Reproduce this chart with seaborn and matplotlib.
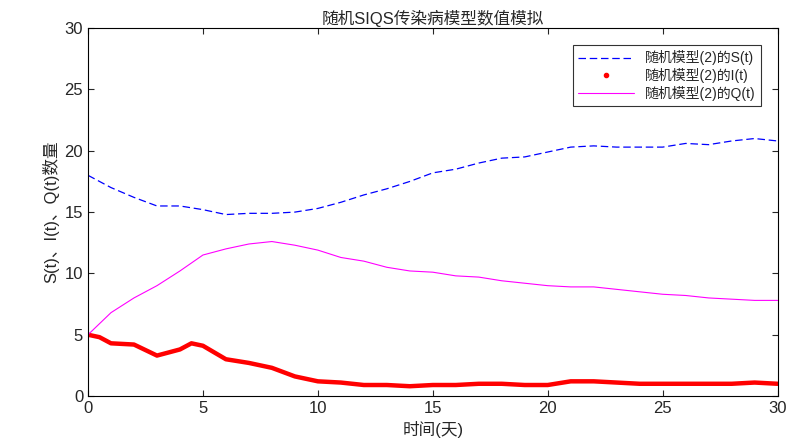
import matplotlib
matplotlib.use("Agg")
import matplotlib.pyplot as plt
import seaborn as sns
import pandas as pd
from matplotlib.lines import Line2D

sns.set_style("white")
plt.rcParams['font.family'] = ['Liberation Sans', 'Noto Sans CJK SC']

t = list(range(31))
s_vals = [18, 17, 16.2, 15.5, 15.5, 15.2, 14.8, 14.9, 14.9, 15.0, 15.3, 15.8, 16.4, 16.9, 17.5,
          18.2, 18.5, 19.0, 19.4, 19.5, 19.9, 20.3, 20.4, 20.3, 20.3, 20.3, 20.6, 20.5, 20.8, 21.0, 20.8]
q_vals = [5, 6.8, 8, 9, 10.2, 11.5, 12, 12.4, 12.6, 12.3, 11.9, 11.3, 11, 10.5, 10.2,
          10.1, 9.8, 9.7, 9.4, 9.2, 9.0, 8.9, 8.9, 8.7, 8.5, 8.3, 8.2, 8.0, 7.9, 7.8, 7.8]
i_t = [0, 0.5, 1, 2, 3, 4, 4.5, 5, 6, 7, 8, 9, 10, 11, 12, 13, 14, 15, 16, 17, 18, 19, 20,
       21, 22, 23, 24, 25, 26, 27, 28, 29, 30]
i_vals = [5, 4.8, 4.3, 4.2, 3.3, 3.8, 4.3, 4.1, 3.0, 2.7, 2.3, 1.6, 1.2, 1.1, 0.9, 0.9, 0.8,
          0.9, 0.9, 1.0, 1.0, 0.9, 0.9, 1.2, 1.2, 1.1, 1.0, 1.0, 1.0, 1.0, 1.0, 1.1, 1.0]

df = pd.DataFrame({"t": t, "S": s_vals, "Q": q_vals})
di = pd.DataFrame({"t": i_t, "I": i_vals})

fig, ax = plt.subplots(figsize=(8, 4.47), dpi=100)
sns.lineplot(data=df, x="t", y="S", ax=ax, color="blue", lw=0.9, linestyle=(0, (6, 3)))
sns.lineplot(data=di, x="t", y="I", ax=ax, color="red", lw=3.2)
sns.lineplot(data=df, x="t", y="Q", ax=ax, color="magenta", lw=0.8)

ax.set_xlim(0, 30)
ax.set_ylim(0, 30)
ax.set_xticks(range(0, 31, 5))
ax.set_yticks(range(0, 31, 5))
ax.tick_params(labelsize=12, direction="in", length=4, left=True, bottom=True, top=True, right=True,
               labeltop=False, labelright=False)
for sp in ax.spines.values():
    sp.set_color("black")
    sp.set_linewidth(0.8)
ax.set_xlabel("时间(天)", fontsize=12)
ax.set_ylabel("S(t)、I(t)、Q(t)数量", fontsize=12)
ax.set_title("随机SIQS传染病模型数值模拟", fontsize=12, pad=3)

handles = [
    Line2D([], [], color="blue", lw=0.9, linestyle=(0, (6, 3))),
    Line2D([], [], color="red", lw=0, marker="o", markersize=3),
    Line2D([], [], color="magenta", lw=0.8),
]
labels = ["随机模型(2)的S(t)", "随机模型(2)的I(t)", "随机模型(2)的Q(t)"]
leg = ax.legend(handles, labels, loc="upper right", fontsize=10, frameon=True, fancybox=False,
                edgecolor="black", borderaxespad=1.2, handlelength=4, labelspacing=0.2)
leg.get_frame().set_linewidth(0.8)

plt.subplots_adjust(left=0.11, right=0.972, top=0.937, bottom=0.114)
fig.savefig("out.png", dpi=100)
